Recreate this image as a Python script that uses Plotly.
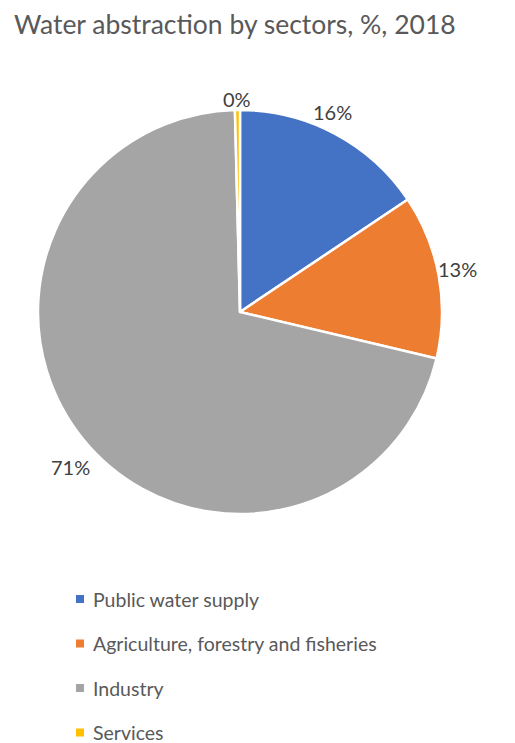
import math
import plotly.graph_objects as go

categories = ["Public water supply", "Agriculture, forestry and fisheries", "Industry", "Services"]
values = [15.6, 13.1, 70.9, 0.4]
colors = ["#4472C4", "#ED7D31", "#A5A5A5", "#FFC000"]

# page has an 8px body margin; work in reference pixels and shift
OFF = 8
W, H = 515 - OFF, 743 - OFF
cx, cy, R = 240 - OFF, 312 - OFF, 202


def px(x):
    return x / W


def py(y):
    return 1 - y / H


fig = go.Figure(go.Pie(
    labels=categories, values=values, sort=False, direction="clockwise", rotation=0,
    marker=dict(colors=colors, line=dict(color="white", width=2.5)),
    textinfo="none", hoverinfo="label+percent", showlegend=False,
    domain=dict(x=[px(cx - R), px(cx + R)], y=[py(cy + R), py(cy - R)]),
))

annotations = []
total = sum(values)
label_r = [243, 243, 246, 227]
cum = 0
for i, v in enumerate(values):
    mid = (cum + v / 2) / total * 2 * math.pi
    cum += v
    x = cx + label_r[i] * math.sin(mid)
    y = cy - label_r[i] * math.cos(mid)
    annotations.append(dict(x=px(x), y=py(y), xref="paper", yref="paper",
                            text=f"{round(v / total * 100)}%", showarrow=False,
                            font=dict(size=20, color="#404040", family="Lato")))

shapes = []
leg_y0, leg_dy = 599 - OFF, 44.5
for i, (c, col) in enumerate(zip(categories, colors)):
    yy = leg_y0 + i * leg_dy
    shapes.append(dict(type="rect", xref="paper", yref="paper",
                       x0=px(76 - OFF), x1=px(84 - OFF), y0=py(yy + 4), y1=py(yy - 4),
                       fillcolor=col, line=dict(width=0)))
    annotations.append(dict(x=px(91 - OFF), y=py(yy), xref="paper", yref="paper",
                            xanchor="left", yanchor="middle", text=c, showarrow=False,
                            font=dict(size=19.5, color="#595959", family="Lato")))

fig.update_layout(
    width=W, height=H, margin=dict(l=0, r=0, t=0, b=0),
    paper_bgcolor="white", plot_bgcolor="white",
    title=dict(text="Water abstraction by sectors, %, 2018", x=px(14 - OFF), xanchor="left",
               y=py(25 - OFF), yanchor="middle",
               font=dict(size=26.5, color="#595959", family="Lato")),
    annotations=annotations, shapes=shapes, showlegend=False,
)

fig.write_html("out.html")
